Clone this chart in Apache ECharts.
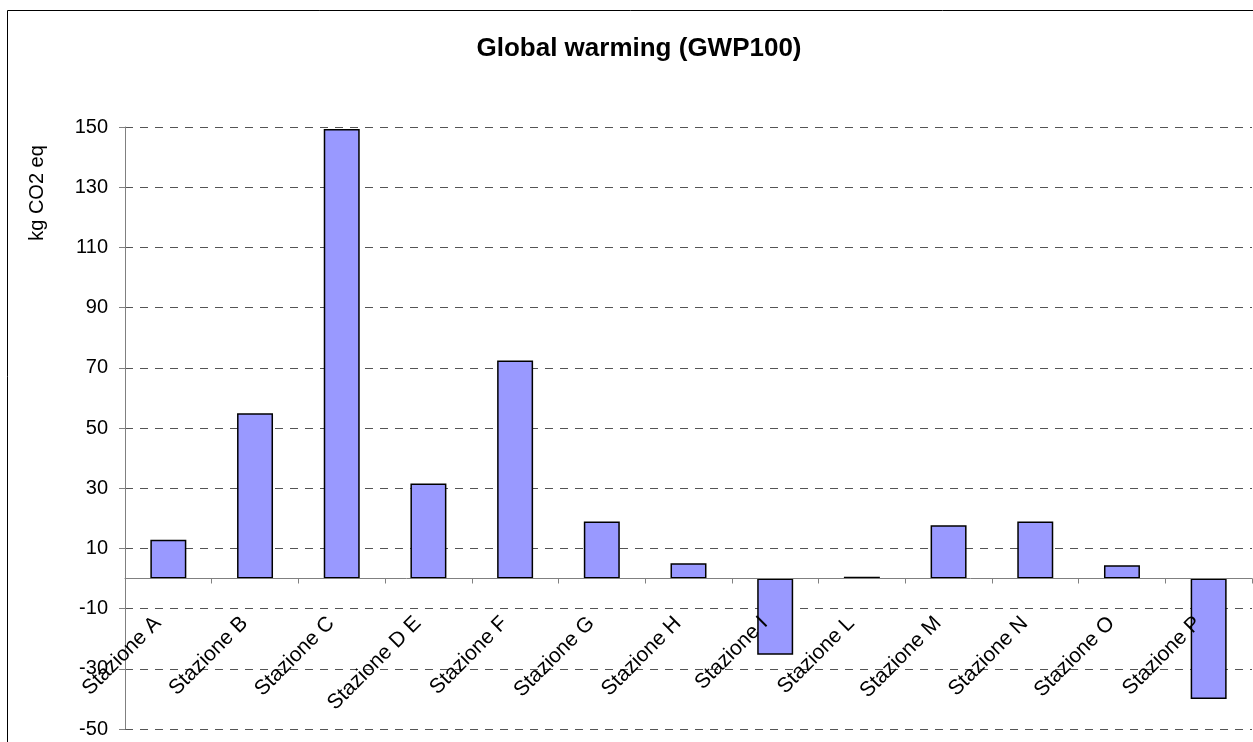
<!DOCTYPE html>
<html>
<head>
<meta charset="utf-8">
<script src="https://cdn.jsdelivr.net/npm/echarts@6/dist/echarts.min.js"></script>
<style>
  html, body { margin: 0; padding: 0; background: #fff; }
  #chart { width: 1253px; height: 742px; }
</style>
</head>
<body>
<div id="chart"></div>
<script>
// Stations along the x axis
const stations = [
  'Stazione A', 'Stazione B', 'Stazione C', 'Stazione D E', 'Stazione F',
  'Stazione G', 'Stazione H', 'Stazione I', 'Stazione L', 'Stazione M',
  'Stazione N', 'Stazione O', 'Stazione P'
];
// Global warming potential per station, kg CO2 eq
const gwp100 = [12.9, 54.9, 149.3, 31.6, 72.4, 18.9, 5.1, -25.3, 0.6, 17.7, 18.9, 4.4, -40.0];
// Value axis range and step
const yMin = -50;
const yMax = 150;
const yStep = 20;

const FONT = 'Liberation Sans, Arial, sans-serif';
const GRID = { left: 125, right: 1, top: 127, bottom: 13 };
const CHART_H = 742;

const chart = echarts.init(document.getElementById('chart'), null, { renderer: 'canvas' });

chart.setOption({
  backgroundColor: '#ffffff',
  animation: false,
  title: {
    text: 'Global warming (GWP100)',
    left: 634,
    top: 31,
    textAlign: 'center',
    textStyle: { fontFamily: FONT, fontWeight: 'bold', fontSize: 26, color: '#000' }
  },
  graphic: [
    {
      type: 'rect',
      silent: true,
      shape: { x: 7.5, y: 10.5, width: 1270, height: 760 },
      style: { fill: 'none', stroke: '#000', lineWidth: 1 },
      z: 0
    },
    {
      type: 'text',
      silent: true,
      x: 37,
      y: 193,
      rotation: Math.PI / 2,
      style: {
        text: 'kg CO2 eq',
        font: '20px ' + FONT,
        fill: '#000',
        align: 'center',
        verticalAlign: 'middle'
      }
    }
  ],
  grid: Object.assign({ containLabel: false, outerBoundsMode: 'none' }, GRID),
  xAxis: {
    type: 'category',
    data: stations,
    z: 5,
    axisLine: { onZero: false, lineStyle: { color: '#808080', width: 1 } },
    axisTick: { show: true, length: 5, lineStyle: { color: '#808080' } },
    axisLabel: {
      interval: 0,
      rotate: 45,
      margin: 31,
      padding: [0, 15, 0, 0],
      fontFamily: FONT,
      fontSize: 21,
      color: '#000'
    },
    splitLine: { show: false }
  },
  yAxis: {
    type: 'value',
    min: yMin,
    max: yMax,
    interval: yStep,
    axisLine: { show: true, lineStyle: { color: '#808080', width: 1 } },
    axisTick: { show: true, length: 6, lineStyle: { color: '#808080' } },
    axisLabel: { margin: 17, fontFamily: FONT, fontSize: 20, color: '#000' },
    splitLine: { show: true, lineStyle: { color: '#555', type: [8, 7], width: 1 } }
  },
  series: [{
    type: 'bar',
    data: gwp100,
    barWidth: '41.5%',
    z: 2,
    itemStyle: { color: '#9999ff', borderColor: '#000', borderWidth: 1.5 }
  }]
});

// Lift the category axis (line, ticks and labels) up to the zero line of the value axis
const zeroY = chart.convertToPixel({ yAxisIndex: 0 }, 0);
const gridBottomY = CHART_H - GRID.bottom;
chart.setOption({ xAxis: { offset: zeroY - gridBottomY } });
</script>
</body>
</html>
